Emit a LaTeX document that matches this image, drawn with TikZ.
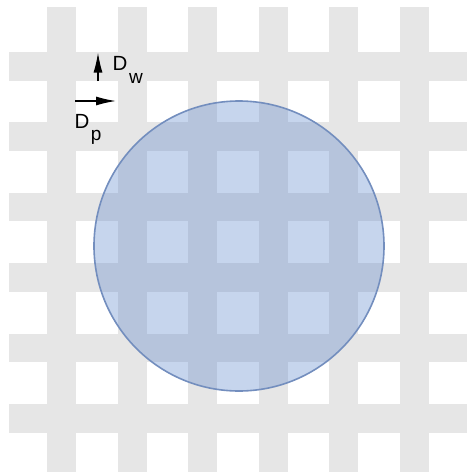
\documentclass[tikz,border=0pt]{standalone}
\usepackage{fontspec}
\setmainfont{Liberation Sans}
\usepackage{xcolor}
\usetikzlibrary{arrows.meta,positioning}
\definecolor{bargray}{RGB}{230,230,230}
\definecolor{grainfill}{RGB}{100,140,205}
\definecolor{grainline}{RGB}{115,142,190}
\tikzset{
  bar/.style={fill=bargray,draw=none},
  grain/.style={circle,draw=grainline,line width=1.6pt,fill=grainfill,fill opacity=0.37,minimum size=290pt,inner sep=0pt},
  lbl/.style={font=\fontsize{20.5}{21}\selectfont,inner sep=0pt,anchor=base west},
  arr/.style={-{Latex[length=20pt,width=9pt]},line width=1.4pt},
}
\newcommand{\subtxt}[1]{\kern1.5pt\raisebox{-12.5pt}{\fontsize{19}{19}\selectfont #1}}

\begin{document}
\begin{tikzpicture}[x=1pt,y=-1pt]
\useasboundingbox (0,0) rectangle (467,472);
% grid of bars
\foreach \i in {0,...,5} {\fill[bar] (47+\i*70.6,7) rectangle ++(29,465); \fill[bar] (9,52+\i*70.4) rectangle ++(458,28.5);}
\node[grain] (grain) at (239,246) {};
\coordinate (wtail) at (98,81); \coordinate (whead) at (98,52.5);
\coordinate (ptail) at (75,101); \coordinate (phead) at (116,101);
\draw[arr] (wtail)--(whead);
\draw[arr] (ptail)--(phead);
\node[lbl] (dw) at (112.5,70.7) {D\subtxt{w}};
\node[lbl] (dp) at (74.4,128) {D\subtxt{p}};
\end{tikzpicture}
\end{document}
